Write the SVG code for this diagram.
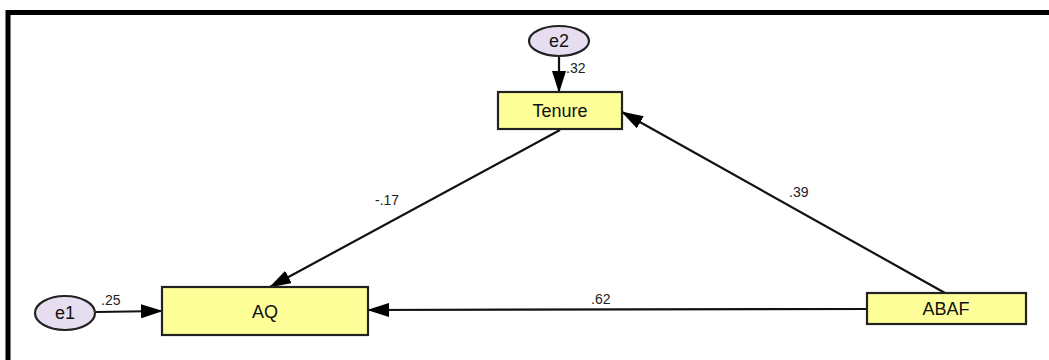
<svg xmlns="http://www.w3.org/2000/svg" width="1049" height="360" viewBox="0 0 1049 360">
<style>
.box{fill:#ffff99;stroke:#222;stroke-width:2.2}
.err{fill:#e6def0;stroke:#222;stroke-width:2.2}
.lbl{font-family:"Liberation Sans",Arial,sans-serif;font-size:18px;fill:#111;text-anchor:middle}
.num{font-family:"Liberation Sans",Arial,sans-serif;font-size:14px;fill:#222}
.conn{stroke:#111;stroke-width:2.2;fill:none;marker-end:url(#ah)}
</style>
<defs>
<marker id="ah" markerWidth="22" markerHeight="14" refX="21" refY="7" orient="auto" markerUnits="userSpaceOnUse">
<path d="M0,0 L22,7 L0,14 Z" fill="#000"/>
</marker>
</defs>
<rect width="1049" height="360" fill="#fff"/>
<path d="M8,360 V12.5 H1049" fill="none" stroke="#000" stroke-width="5"/>
<g id="connectors">
<line class="conn" x1="559" y1="55" x2="559" y2="92"/>
<line class="conn" x1="96" y1="312" x2="162" y2="311"/>
<line class="conn" x1="560" y1="130" x2="270" y2="287"/>
<line class="conn" x1="945" y1="293" x2="622" y2="112"/>
<line class="conn" x1="867" y1="309" x2="368" y2="310"/>
<text class="num" x="566" y="73">.32</text>
<text class="num" x="101" y="305">.25</text>
<text class="num" x="375" y="205">-.17</text>
<text class="num" x="789" y="197">.39</text>
<text class="num" x="591" y="304">.62</text>
</g>
<g id="e2">
<ellipse class="err" cx="559" cy="41" rx="30" ry="15"/>
<text class="lbl" x="559" y="47">e2</text>
</g>
<g id="e1">
<ellipse class="err" cx="65" cy="313" rx="30" ry="17"/>
<text class="lbl" x="65" y="319">e1</text>
</g>
<g id="Tenure">
<rect class="box" x="498" y="92" width="124" height="37"/>
<text class="lbl" x="560" y="117">Tenure</text>
</g>
<g id="AQ">
<rect class="box" x="162" y="287" width="206" height="48"/>
<text class="lbl" x="265" y="318">AQ</text>
</g>
<g id="ABAF">
<rect class="box" x="867" y="293" width="159" height="31"/>
<text class="lbl" x="946" y="315">ABAF</text>
</g>
</svg>
